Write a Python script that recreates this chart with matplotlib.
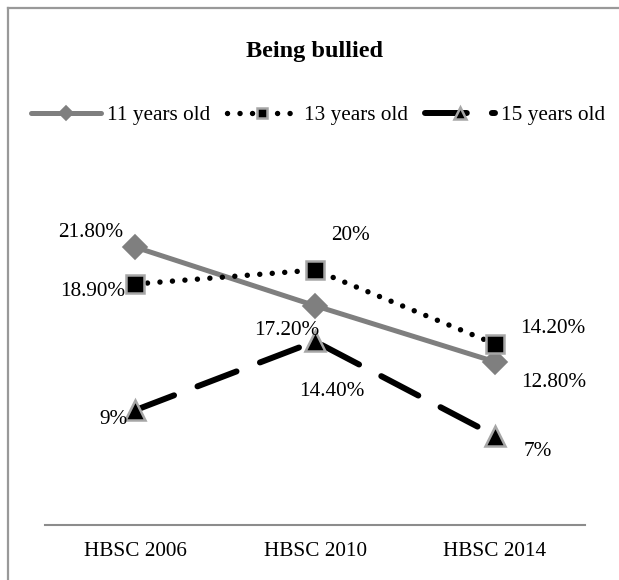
import matplotlib
matplotlib.use("Agg")
import matplotlib.pyplot as plt
from matplotlib.lines import Line2D

plt.rcParams['font.family'] = ['Liberation Serif', 'DejaVu Serif']

# Survey waves and share of children reporting being bullied (%)
waves = ["HBSC 2006", "HBSC 2010", "HBSC 2014"]
age11 = [21.8, 17.2, 12.8]
age13 = [18.9, 20.0, 14.2]
age15 = [9.0, 14.4, 7.0]
labels11 = ["21.80%", "17.20%", "12.80%"]
labels13 = ["18.90%", "20%", "14.20%"]
labels15 = ["9%", "14.40%", "7%"]

DPI = 100
FS = 15.3
fig = plt.figure(figsize=(6.19, 5.80), dpi=DPI)
ax = fig.add_axes([45 / 619, 55 / 580, 540 / 619, 382.5 / 580])

x = range(len(waves))
gray_line = "#7f7f7f"
edge_gray = "#a6a6a6"

style11 = dict(color=gray_line, lw=3.6, solid_capstyle="round",
               marker="D", ms=12, mfc=gray_line, mec=gray_line, mew=1.2)
style13 = dict(color="black", lw=3.9, linestyle=(0, (0.01, 2.3)),
               dash_capstyle="round", marker="s", ms=13, mfc="black",
               mec=edge_gray, mew=1.8)
style15 = dict(color="black", lw=4.3, linestyle=(0, (7, 4.2)),
               dash_capstyle="round", marker="^", ms=14.5, mfc="black",
               mec=edge_gray, mew=1.8)

ax.plot(x, age11, **style11, zorder=3)
ax.plot(x, age13, **style13, zorder=4)
ax.plot(x, age15, **style15, zorder=3)

def px(v):
    return v * 72.0 / DPI

label_font = dict(fontsize=FS, ha="center", va="center")
off11 = [(-44, 15), (-28, -25), (59, -21)]
off13 = [(-42, -7), (35, 34), (58, 15)]
off15 = [(-21, -9), (17, -50), (43, -16)]
for vals, labs, offs in ((age11, labels11, off11),
                         (age13, labels13, off13),
                         (age15, labels15, off15)):
    for i, (v, t, (dx, dy)) in enumerate(zip(vals, labs, offs)):
        ax.annotate(t, (i, v), xytext=(px(dx), px(dy)),
                    textcoords="offset points", **label_font, zorder=6)

ax.set_xlim(-0.5, 2.5)
ax.set_ylim(0, 30)
ax.set_xticks(list(x))
ax.set_xticklabels(waves, fontsize=FS)
ax.tick_params(axis="x", length=0, pad=12.5)
ax.set_yticks([])
for side in ("top", "right", "left"):
    ax.spines[side].set_visible(False)
ax.spines["bottom"].set_color("#8c8c8c")
ax.spines["bottom"].set_linewidth(1.5)
ax.patch.set_visible(False)

fig.text(315 / 619, 1 - 52 / 580, "Being bullied", fontsize=17.5,
         fontweight="bold", ha="center", va="center")

handles = [
    Line2D([], [], **style11),
    Line2D([], [], **style13),
    Line2D([], [], **style15),
]
fig.legend(handles, ["11 years old", "13 years old", "15 years old"],
           loc="center", bbox_to_anchor=(318 / 619, 1 - 115 / 580),
           ncol=3, frameon=False, fontsize=FS, handlelength=3.3,
           handletextpad=0.3, columnspacing=0.8, markerscale=0.6)

# chart frame (left and top edges)
frame_kw = dict(color="#999999", lw=1.6, transform=fig.transFigure)
fig.add_artist(Line2D([8 / 619, 8 / 619], [0, 1 - 7.5 / 580], **frame_kw))
fig.add_artist(Line2D([8 / 619, 1], [1 - 7.5 / 580, 1 - 7.5 / 580], **frame_kw))

fig.savefig("out.png", dpi=DPI, facecolor="white")
